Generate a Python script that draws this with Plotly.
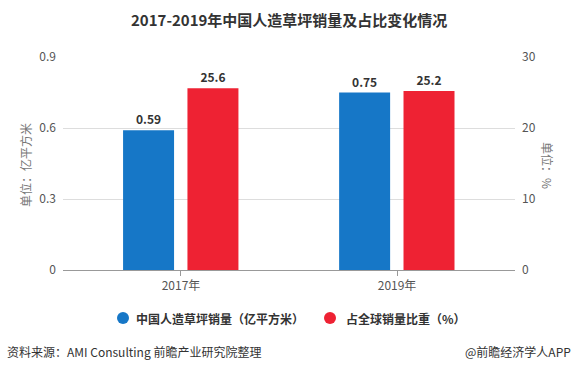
import plotly.graph_objects as go

categories = ["2017年", "2019年"]
sales = [0.59, 0.75]          # 亿平方米
share = [25.6, 25.2]          # %
sales_labels = ["0.59", "0.75"]
share_labels = ["25.6", "25.2"]
left_ticks = [0, 0.3, 0.6, 0.9]
right_ticks = [0, 10, 20, 30]

BLUE = "#1677c7"
RED = "#ee2233"
FONT = "Noto Sans CJK SC, Microsoft YaHei, sans-serif"

W, H = 577, 372
L, R, T, B = 63, 62, 57, 102
PW = W - L - R
PH = H - T - B

def px(x):
    return (x - L) / PW

def py(y):
    return (H - B - y) / PH

fig = go.Figure()
fig.add_trace(go.Bar(
    x=[0, 1], y=sales, width=0.236, offset=-0.268,
    marker=dict(color=BLUE, line=dict(width=0)),
    text=["<b>%s</b>" % t for t in sales_labels], textposition="outside",
    textfont=dict(size=12, color="#333333", family=FONT),
    cliponaxis=False, showlegend=False, yaxis="y", hoverinfo="skip",
))
fig.add_trace(go.Bar(
    x=[0, 1], y=share, width=0.236, offset=0.03,
    marker=dict(color=RED, line=dict(width=0)),
    text=["<b>%s</b>" % t for t in share_labels], textposition="outside",
    textfont=dict(size=12, color="#333333", family=FONT),
    cliponaxis=False, showlegend=False, yaxis="y2", hoverinfo="skip",
))

fig.update_layout(
    width=W, height=H,
    margin=dict(l=L, r=R, t=T, b=B, autoexpand=False),
    paper_bgcolor="white", plot_bgcolor="white",
    font=dict(family=FONT, color="#555555", size=12),
    barmode="overlay",
    showlegend=False,
    xaxis=dict(
        range=[-0.546, 1.546], tickvals=[0, 1], ticktext=categories,
        showgrid=False, zeroline=False, automargin=False,
        showline=True, linecolor="#999999", linewidth=1,
        ticks="outside", ticklen=5, tickcolor="#999999",
        tickfont=dict(size=12, color="#555555"),
    ),
    yaxis=dict(
        range=[0, 0.9], tickvals=left_ticks, ticktext=["0", "0.3", "0.6", "0.9"],
        showgrid=True, gridcolor="#dddddd", gridwidth=1, zeroline=False, automargin=False,
        tickfont=dict(size=12, color="#555555"), ticks="", ticklabelstandoff=6,
    ),
    yaxis2=dict(
        range=[0, 30], tickvals=right_ticks, overlaying="y", side="right",
        showgrid=False, zeroline=False, automargin=False,
        tickfont=dict(size=12, color="#555555"), ticks="", ticklabelstandoff=6,
    ),
)

annotations = [
    dict(text="<b>2017-2019年中国人造草坪销量及占比变化情况</b>", x=px(289), y=py(20),
         xref="paper", yref="paper", showarrow=False, xanchor="center", yanchor="middle",
         font=dict(size=15, color="#333333", family=FONT)),
    dict(text="单位：亿平方米", x=px(25), y=py(165), xref="paper", yref="paper",
         showarrow=False, textangle=-90, xanchor="center", yanchor="middle",
         font=dict(size=12, color="#777777", family=FONT)),
    dict(text="单位：%", x=px(548), y=py(165), xref="paper", yref="paper",
         showarrow=False, textangle=90, xanchor="center", yanchor="middle",
         font=dict(size=12, color="#777777", family=FONT)),
    dict(text="<b>中国人造草坪销量（亿平方米）</b>", x=px(134), y=py(318), xref="paper", yref="paper",
         showarrow=False, xanchor="left", yanchor="middle",
         font=dict(size=12, color="#333333", family=FONT)),
    dict(text="<b>占全球销量比重（%）</b>", x=px(344), y=py(318), xref="paper", yref="paper",
         showarrow=False, xanchor="left", yanchor="middle",
         font=dict(size=12, color="#333333", family=FONT)),
    dict(text="资料来源：AMI Consulting 前瞻产业研究院整理", x=px(5), y=py(351), xref="paper", yref="paper",
         showarrow=False, xanchor="left", yanchor="middle",
         font=dict(size=12, color="#333333", family=FONT)),
    dict(text="@前瞻经济学人APP", x=px(573), y=py(351), xref="paper", yref="paper",
         showarrow=False, xanchor="right", yanchor="middle",
         font=dict(size=12, color="#333333", family=FONT)),
]
fig.update_layout(annotations=annotations)

shapes = [
    dict(type="circle", xref="paper", yref="paper",
         x0=px(117), x1=px(129), y0=py(312), y1=py(324),
         fillcolor=BLUE, line=dict(width=0)),
    dict(type="circle", xref="paper", yref="paper",
         x0=px(324), x1=px(336), y0=py(312), y1=py(324),
         fillcolor=RED, line=dict(width=0)),
]
fig.update_layout(shapes=shapes)

fig.write_html("out.html", config={"displayModeBar": False},
               post_script="document.body.style.margin='0';")
